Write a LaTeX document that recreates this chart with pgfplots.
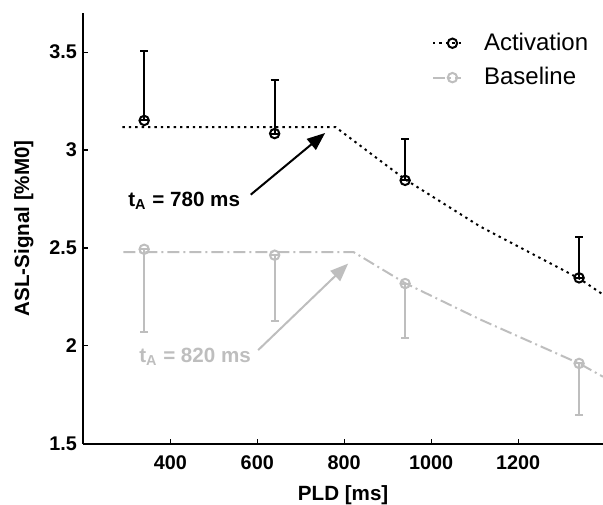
\documentclass[border=0pt]{standalone}
\usepackage{fontspec}
\setmainfont{Liberation Sans}
\usepackage{pgfplots}
\pgfplotsset{compat=1.18}
\usetikzlibrary{arrows.meta,calc}
\definecolor{cAct}{HTML}{000000}
\definecolor{cBase}{HTML}{BEBEBE}

\begin{document}
\begin{tikzpicture}
\begin{axis}[
  name=ax,
  scale only axis, width=259.85pt, height=215.35pt,
  xmin=200, xmax=1395, ymin=1.5, ymax=3.7,
  xtick={400,600,800,1000,1200}, ytick={1.5,2,2.5,3,3.5},
  axis x line*=bottom, axis y line*=left,
  axis line style={line width=1pt},
  tick align=inside, major tick length=2.5pt,
  tick style={line width=0.6pt, black},
  /pgf/number format/assume math mode=true,
  /pgf/number format/set thousands separator={},
  tick label style={font=\bfseries\fontsize{9.9}{11}\selectfont},
  x tick label style={anchor=north, inner sep=0pt, yshift=-6pt},
  y tick label style={anchor=east, inner sep=0pt, xshift=-3pt},
  xlabel={PLD [ms]}, ylabel={ASL-Signal [\%M0]},
  every axis x label/.style={at={(axis description cs:0.5,0)}, anchor=center, yshift=-25.7pt,
    font=\bfseries\fontsize{10.3}{12}\selectfont},
  every axis y label/.style={at={(axis description cs:0,0.5)}, rotate=90, anchor=center, yshift=29.7pt,
    font=\bfseries\fontsize{10.3}{12}\selectfont},
  legend image code/.code={
    \draw[#1, mark=none] (0pt,0pt) -- (14pt,0pt);
    \draw[#1, only marks] plot coordinates {(9.7pt,0pt)};
  },
  legend style={draw=none, fill=none, inner sep=0pt, at={(axis cs:1001,3.62)}, anchor=north west,
    font=\fontsize{12}{14}\selectfont, row sep=3pt,
    /tikz/every odd column/.append style={column sep=9pt}},
  legend cell align=left,
]
% legend entries
\addlegendimage{cAct, line width=1pt, dash pattern=on 1.2pt off 2pt, mark=o, mark size=2.35pt, mark options={solid}}
\addlegendentry{Activation}
\addlegendimage{cBase, line width=1pt, dash pattern=on 6pt off 2pt on 1pt off 2pt, mark=o, mark size=2.35pt, mark options={solid}}
\addlegendentry{Baseline}

% fitted curves
\addplot[forget plot, cAct, line width=1pt, dash pattern=on 1.2pt off 2pt] coordinates {
  (290,3.117) (780,3.117) (940,2.850) (1112,2.610) (1340,2.344) (1395,2.262)};
\addplot[forget plot, cBase, line width=1pt, dash pattern=on 6pt off 2pt on 1pt off 2pt] coordinates {
  (292,2.478) (822,2.478) (940,2.320) (1112,2.135) (1340,1.910) (1395,1.842)};

% measured means with one-sided error bars
\addplot[forget plot, cBase, line width=1pt, only marks, mark=o, mark size=2.35pt,
  error bars/.cd, y dir=both, y explicit,
  error bar style={line width=1pt, cBase},
  error mark options={rotate=90, mark size=2pt, line width=1pt, cBase}]
coordinates {
  (340,2.493) += (0,0) -= (0,0.422)
  (640,2.463) += (0,0) -= (0,0.335)
  (940,2.318) += (0,0) -= (0,0.280)
  (1340,1.910) += (0,0) -= (0,0.264)
};
\addplot[forget plot, cAct, line width=1pt, only marks, mark=o, mark size=2.35pt,
  error bars/.cd, y dir=both, y explicit,
  error bar style={line width=1pt, cAct},
  error mark options={rotate=90, mark size=2pt, line width=1pt, cAct}]
coordinates {
  (340,3.151) += (0,0.354) -= (0,0)
  (640,3.084) += (0,0.276) -= (0,0)
  (940,2.845) += (0,0.213) -= (0,0)
  (1340,2.347) += (0,0.209) -= (0,0)
};

% annotations
\draw[cAct, line width=1pt, -{Triangle[length=9pt,width=7pt]}] (axis cs:585,2.772) -- (axis cs:756,3.087);
\draw[cBase, line width=1pt, -{Triangle[length=9pt,width=7pt]}] (axis cs:602,1.978) -- (axis cs:809,2.420);
\node[cAct, font=\bfseries\fontsize{10.3}{12}\selectfont, anchor=center] at (axis cs:432,2.743) {t\textsubscript{A} = 780 ms};
\node[cBase, font=\bfseries\fontsize{10.3}{12}\selectfont, anchor=center] at (axis cs:457,1.944) {t\textsubscript{A} = 820 ms};
\end{axis}
\pgfresetboundingbox
\path[use as bounding box] ($(ax.south west)+(-41.65pt,-30.65pt)$) rectangle ($(ax.north east)+(0pt,6.5pt)$);
\end{tikzpicture}
\end{document}
